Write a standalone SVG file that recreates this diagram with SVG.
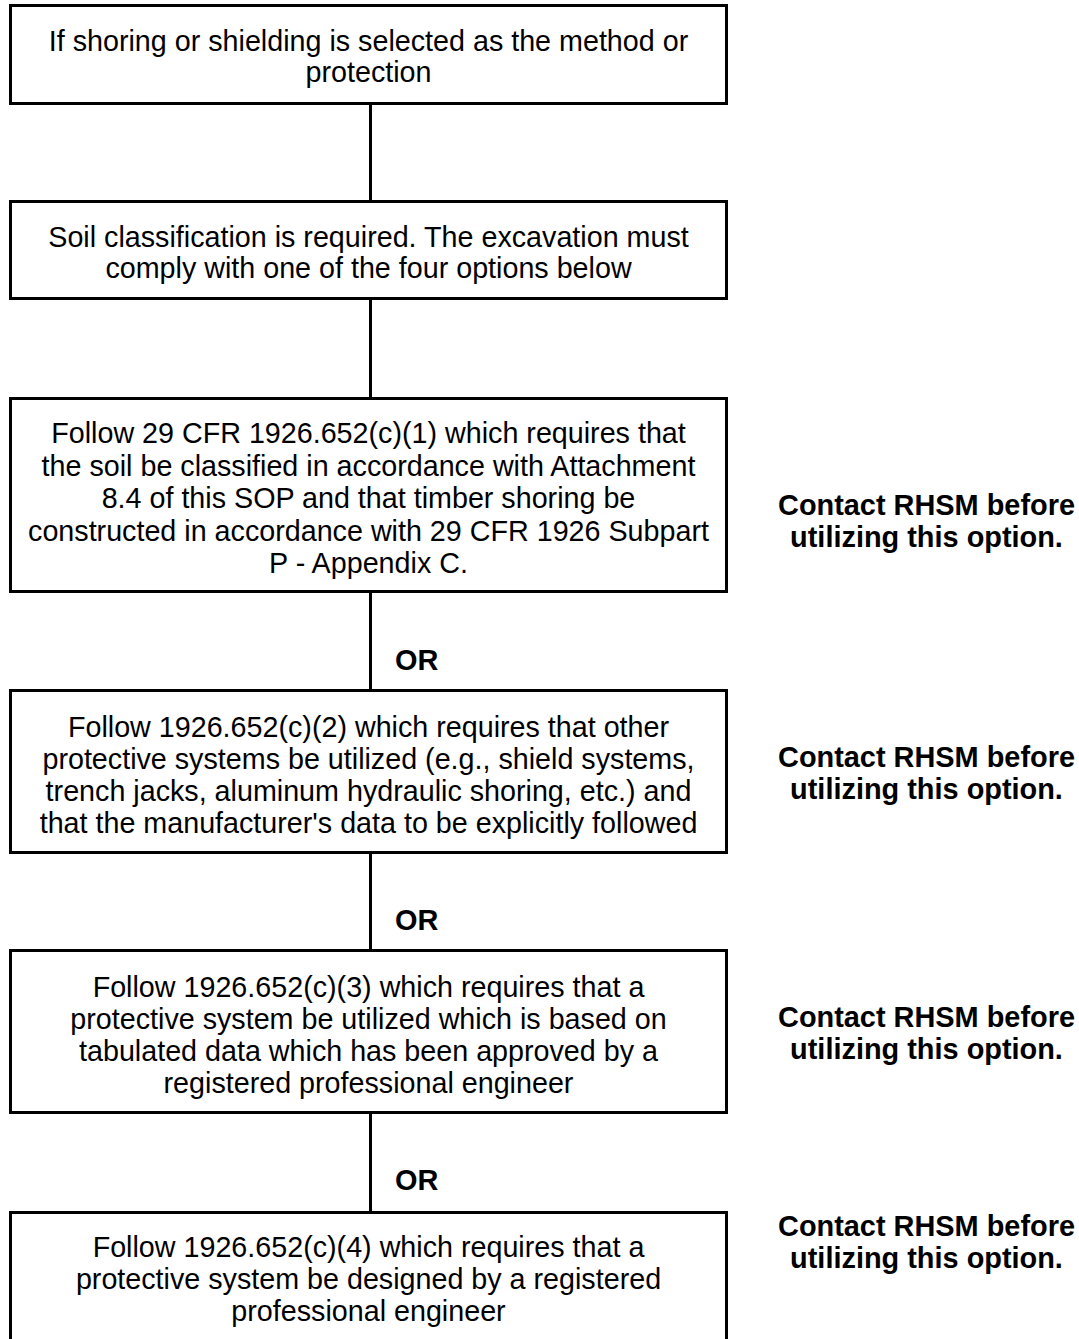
<svg xmlns="http://www.w3.org/2000/svg" width="1079" height="1339" viewBox="0 0 1079 1339">
<style>
.box{fill:#fff;stroke:#000;stroke-width:3}
.t{font-family:"Liberation Sans",Arial,sans-serif;font-size:28.7px;fill:#000;text-anchor:middle}
.b{font-family:"Liberation Sans",Arial,sans-serif;font-size:28.9px;font-weight:bold;fill:#000}
.r{text-anchor:middle}
.c{stroke:#000;stroke-width:3;fill:none}
</style>
<rect width="1079" height="1339" fill="#fff"/>
<g id="connectors">
<line class="c" x1="370.5" y1="103.5" x2="370.5" y2="201.5"/>
<line class="c" x1="370.5" y1="298.5" x2="370.5" y2="398.5"/>
<line class="c" x1="370.5" y1="591.5" x2="370.5" y2="690.5"/>
<line class="c" x1="370.5" y1="852.5" x2="370.5" y2="950.5"/>
<line class="c" x1="370.5" y1="1112.5" x2="370.5" y2="1212.5"/>
</g>
<g id="n1">
<rect class="box" x="10.5" y="5.5" width="716" height="98"/>
<text class="t" x="368.5" y="51">If shoring or shielding is selected as the method or</text>
<text class="t" x="368.5" y="82">protection</text>
</g>
<g id="n2">
<rect class="box" x="10.5" y="201.5" width="716" height="97"/>
<text class="t" x="368.5" y="247">Soil classification is required. The excavation must</text>
<text class="t" x="368.5" y="278">comply with one of the four options below</text>
</g>
<g id="n3">
<rect class="box" x="10.5" y="398.5" width="716" height="193"/>
<text class="t" x="368.5" y="443">Follow 29 CFR 1926.652(c)(1) which requires that</text>
<text class="t" x="368.5" y="475.5">the soil be classified in accordance with Attachment</text>
<text class="t" x="368.5" y="508">8.4 of this SOP and that timber shoring be</text>
<text class="t" x="368.5" y="540.5">constructed in accordance with 29 CFR 1926 Subpart</text>
<text class="t" x="368.5" y="573">P - Appendix C.</text>
</g>
<g id="n3note"><text class="b r" x="926.5" y="515">Contact RHSM before</text><text class="b r" x="926.5" y="547">utilizing this option.</text></g>
<g id="or1"><text class="b" x="395" y="670">OR</text></g>
<g id="n4">
<rect class="box" x="10.5" y="690.5" width="716" height="162"/>
<text class="t" x="368.5" y="737">Follow 1926.652(c)(2) which requires that other</text>
<text class="t" x="368.5" y="769">protective systems be utilized (e.g., shield systems,</text>
<text class="t" x="368.5" y="801">trench jacks, aluminum hydraulic shoring, etc.) and</text>
<text class="t" x="368.5" y="833">that the manufacturer's data to be explicitly followed</text>
</g>
<g id="n4note"><text class="b r" x="926.5" y="767">Contact RHSM before</text><text class="b r" x="926.5" y="799">utilizing this option.</text></g>
<g id="or2"><text class="b" x="395" y="930">OR</text></g>
<g id="n5">
<rect class="box" x="10.5" y="950.5" width="716" height="162"/>
<text class="t" x="368.5" y="997">Follow 1926.652(c)(3) which requires that a</text>
<text class="t" x="368.5" y="1029">protective system be utilized which is based on</text>
<text class="t" x="368.5" y="1061">tabulated data which has been approved by a</text>
<text class="t" x="368.5" y="1093">registered professional engineer</text>
</g>
<g id="n5note"><text class="b r" x="926.5" y="1027">Contact RHSM before</text><text class="b r" x="926.5" y="1059">utilizing this option.</text></g>
<g id="or3"><text class="b" x="395" y="1190">OR</text></g>
<g id="n6">
<rect class="box" x="10.5" y="1212.5" width="716" height="200"/>
<text class="t" x="368.5" y="1257">Follow 1926.652(c)(4) which requires that a</text>
<text class="t" x="368.5" y="1289">protective system be designed by a registered</text>
<text class="t" x="368.5" y="1321">professional engineer</text>
</g>
<g id="n6note"><text class="b r" x="926.5" y="1236">Contact RHSM before</text><text class="b r" x="926.5" y="1268">utilizing this option.</text></g>
</svg>
